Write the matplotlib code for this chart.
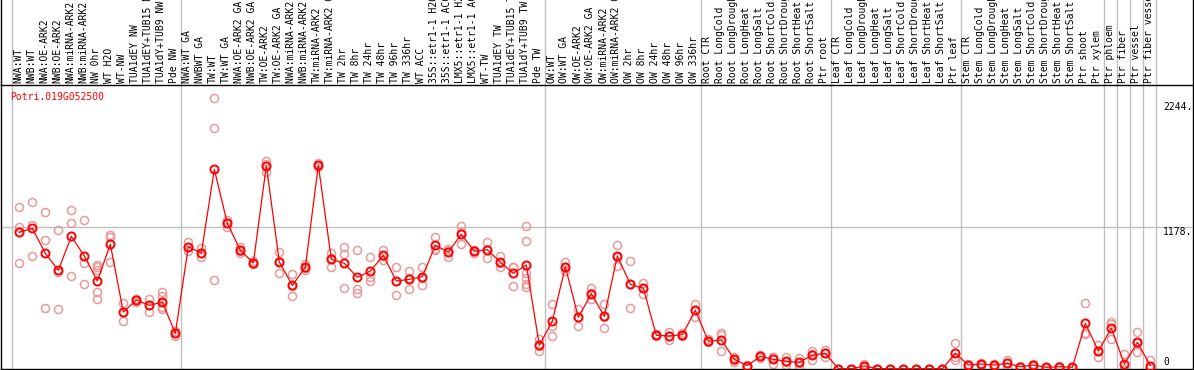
import numpy as np
import matplotlib
matplotlib.use("Agg")
import matplotlib.pyplot as plt

gene = "Potri.019G052500"

samples = [
    "NWA:WT", "NWB:WT", "NWA:OE-ARK2", "NWB:OE-ARK2", "NWA:miRNA-ARK2", "NWB:miRNA-ARK2",
    "NW 0hr", "WT H2O", "WT-NW", "TUA1dEY NW", "TUA1dEY+TUB15 NW", "TUA1dY+TUB9 NW", "Pde NW",
    "NWA:WT GA", "NWBWT GA", "TW:WT", "TW:WT GA", "NWA:OE-ARK2 GA", "NWB:OE-ARK2 GA",
    "TW:OE-ARK2", "TW:OE-ARK2 GA", "NWA:miRNA-ARK2 GA", "NWB:miRNA-ARK2 GA", "TW:miRNA-ARK2",
    "TW:miRNA-ARK2 GA", "TW 2hr", "TW 8hr", "TW 24hr", "TW 48hr", "TW 96hr", "TW 336hr",
    "WT ACC", "35S::etr1-1 H2O", "35S::etr1-1 ACC", "LMX5::etr1-1 H2O", "LMX5::etr1-1 ACC",
    "WT-TW", "TUA1dEY TW", "TUA1dEY+TUB15 TW", "TUA1dY+TUB9 TW", "Pde TW",
    "OW:WT", "OW:WT GA", "OW:OE-ARK2", "OW:OE-ARK2 GA", "OW:miRNA-ARK2", "OW:miRNA-ARK2 GA",
    "OW 2hr", "OW 8hr", "OW 24hr", "OW 48hr", "OW 96hr", "OW 336hr",
    "Root CTR", "Root LongCold", "Root LongDrought", "Root LongHeat", "Root LongSalt",
    "Root ShortCold", "Root ShortDrought", "Root ShortHeat", "Root ShortSalt", "Ptr root",
    "Leaf CTR", "Leaf LongCold", "Leaf LongDrought", "Leaf LongHeat", "Leaf LongSalt",
    "Leaf ShortCold", "Leaf ShortDrought", "Leaf ShortHeat", "Leaf ShortSalt", "Ptr leaf",
    "Stem CTR", "Stem LongCold", "Stem LongDrought", "Stem LongHeat", "Stem LongSalt",
    "Stem ShortCold", "Stem ShortDrought", "Stem ShortHeat", "Stem ShortSalt", "Ptr shoot",
    "Ptr xylem", "Ptr phloem", "Ptr fiber", "Ptr vessel", "Ptr fiber vessel",
]

means = [
    1134, 1168, 960, 819, 1101, 938, 730, 1035, 473, 573, 528, 556, 296,
    1015, 963, 1657, 1209, 985, 880, 1687, 888, 694, 844, 1693, 910, 877, 761, 813,
    943, 730, 744, 766, 1026, 971, 1118, 977, 990, 886, 794, 863, 197,
    398, 849, 429, 625, 437, 938, 703, 670, 280, 274, 285, 487,
    230, 241, 80, 28, 105, 80, 64, 55, 116, 130,
    2, 2, 25, 2, 2, 2, 2, 2, 2, 130,
    33, 41, 33, 47, 19, 33, 14, 19, 14, 379,
    149, 338, 41, 221, 28,
]

replicates = [
    [1342, 1181, 877], [1383, 1195, 938], [1300, 1068, 504], [1151, 498, 808],
    [1319, 1209, 772], [1237, 877, 705], [863, 844, 822, 641, 578], [1112, 1098, 890],
    [550, 398, 475], [581, 560, 578], [581, 470, 533], [641, 606, 517, 495, 553],
    [318, 274, 296],
    [1051, 1015, 980], [1001, 927, 961], [2246, 1997, 739], [1237, 1176, 1214],
    [1015, 960, 980], [900, 870, 870], [1726, 1637, 1698], [968, 799, 897],
    [786, 606, 690], [870, 820, 842], [1707, 1680, 1692], [965, 844, 921],
    [1015, 954, 670], [985, 664, 628], [929, 766, 733], [988, 905, 936],
    [844, 614, 732], [811, 666, 755], [844, 697, 757], [1095, 993, 990],
    [998, 932, 983], [1184, 1035, 1135], [985, 960, 986], [1051, 919, 1000],
    [938, 844, 876], [849, 689, 844], [1187, 1064, 794, 753, 703, 677], [249, 152, 190],
    [537, 354, 271], [886, 849, 812], [495, 360, 432], [670, 578, 627],
    [539, 338, 434], [1026, 855, 933], [894, 509, 706], [714, 620, 676],
    [290, 270, 280], [310, 241, 271], [296, 275, 284], [539, 432, 490],
    [245, 225, 220], [296, 280, 149], [102, 60, 78], [20, 35, 29], [115, 95, 105],
    [102, 41, 97], [102, 30, 60], [90, 25, 50], [152, 75, 121], [160, 100, 130],
    [2, 2, 2], [2, 2, 2], [45, 15, 15], [2, 2, 2], [2, 2, 2],
    [2, 2, 2], [2, 2, 2], [2, 2, 2], [2, 2, 2], [213, 75, 102],
    [40, 30, 29], [50, 35, 38], [40, 30, 29], [75, 20, 46], [25, 15, 17],
    [40, 30, 29], [18, 12, 12], [25, 15, 17], [18, 12, 12], [545, 301, 291],
    [199, 97, 151], [393, 375, 246], [124, 0, 0], [305, 139, 219], [75, 5, 5],
]

# first sample of each group (grey separators sit just before them)
group_starts = [0, 13, 41, 53, 63, 73, 84, 85, 86, 87, 88]
ytick_vals = [2244, 1178, 0]
ytick_text = ["2244.", "1178.", "0"]
ytick_shift = [-8.5, -4.5, 7]

mono = "DejaVu Sans Mono"
grey = "#c0c0c0"

fig = plt.figure(figsize=(11.94, 3.70), dpi=100)
ax = fig.add_axes([1 / 1194, 1 / 370, 1192 / 1194, 284 / 370])
ax.set_xlim(-1.41, 90.28)
ax.set_ylim(0, 2357)
ax.set_xticks([])
ax.set_yticks([])
for sp in ax.spines.values():
    sp.set_linewidth(1)
    sp.set_color("black")

x = np.arange(len(samples))

# separators, reaching up through the label band
for g in group_starts:
    ax.axvline(g - 0.6, ymin=0, ymax=369 / 284, color=grey, lw=1, clip_on=False, zorder=0)
ax.axhline(1178, color=grey, lw=1, zorder=0)
for xx in (0, 1):
    ax.plot([xx, xx], [1, 369 / 284], transform=ax.transAxes, color="black",
            lw=1, clip_on=False)

# replicate points
for i, reps in enumerate(replicates):
    ax.plot([i] * len(reps), reps, "o", mfc="none", mec="#e89a9a", ms=5.8, mew=1.1, zorder=2)

# mean line
ax.plot(x, means, "-", color="red", lw=0.9, marker="o", mfc="none", mec="red",
        ms=5.8, mew=1.4, zorder=3)

# sample labels
for i, s in enumerate(samples):
    ax.text(i - 0.1, 1 + 2 / 284, s, transform=ax.get_xaxis_transform(), rotation=90,
            ha="center", va="bottom", fontsize=7, family=mono, color="black", clip_on=False)

ax.text(9 / 1192, 1 - 12 / 284, gene, transform=ax.transAxes, ha="left", va="center",
        fontsize=7, family=mono, color="red")

for v, t, dy in zip(ytick_vals, ytick_text, ytick_shift):
    ax.annotate(t, xy=(1162 / 1192, v), xycoords=ax.get_yaxis_transform(),
                xytext=(0, dy * 0.72), textcoords="offset points",
                ha="left", va="center", fontsize=7, family=mono, color="black")

fig.savefig("out.png", dpi=100)
